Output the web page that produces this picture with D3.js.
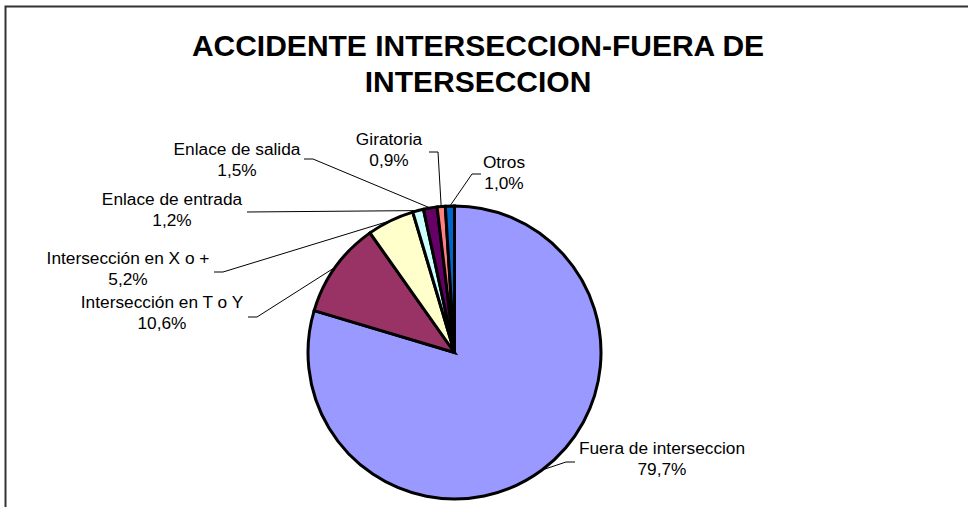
<!DOCTYPE html>
<html lang="es">
<head>
<meta charset="UTF-8">
<style>
  body { margin: 0; background: #fff; }
  svg { display: block; }
  text { font-family: "Liberation Sans", Arial, sans-serif; fill: #000; }
  .title { font-size: 30px; font-weight: bold; }
  .lbl { font-size: 17.3px; }
  .slice { stroke: #000; stroke-width: 3px; }
  .leader { fill: none; stroke: #000; stroke-width: 1px; }
</style>
</head>
<body>
<svg width="968" height="507"></svg>
<script src="https://cdn.jsdelivr.net/npm/d3@7"></script>
<script>
// data, in the order Excel draws it (clockwise from 12 o'clock)
var categories = ["Fuera de interseccion", "Intersección en T o Y", "Intersección en X o +",
                  "Enlace de entrada", "Enlace de salida", "Giratoria", "Otros"];
var values = [79.7, 10.6, 5.2, 1.2, 1.5, 0.9, 1.0];
var pctLabels = ["79,7%", "10,6%", "5,2%", "1,2%", "1,5%", "0,9%", "1,0%"];
var colors = ["#9999FF", "#993366", "#FFFFCC", "#CCFFFF", "#660066", "#FF8080", "#0066CC"];
var titleLines = ["ACCIDENTE INTERSECCION-FUERA DE", "INTERSECCION"];

// label layout: centre x, first baseline, leader start (lx, ly)
var labelLayout = [
  {x: 662, y: 454, lx: 575, ly: 462, side: "right"},
  {x: 162, y: 308, lx: 248, ly: 317, side: "left"},
  {x: 128, y: 264, lx: 214, ly: 272, side: "left"},
  {x: 172, y: 205, lx: 247, ly: 212, side: "left"},
  {x: 237, y: 155, lx: 304, ly: 159, side: "left"},
  {x: 389, y: 145, lx: 429, ly: 152, side: "left"},
  {x: 504, y: 168, lx: 481, ly: 174, side: "right"}
];

var svg = d3.select("svg"),
    cx = 454.5, cy = 352.5, radius = 146.5;

// chart frame (right / bottom edges fall outside the picture)
svg.append("path")
    .attr("d", "M5.5,507 V6.5 H968")
    .attr("fill", "none")
    .attr("stroke", "#333")
    .attr("stroke-width", 2);

svg.selectAll(".title")
    .data(titleLines)
    .enter().append("text")
    .attr("class", "title")
    .attr("x", 478)
    .attr("y", function(d, i) { return 56 + i * 36; })
    .attr("text-anchor", "middle")
    .text(function(d) { return d; });

var pie = d3.pie().sort(null).value(function(d) { return d; });
var arcs = pie(values);

var arc = d3.arc().innerRadius(0).outerRadius(radius);
var edge = d3.arc().innerRadius(radius).outerRadius(radius);

var g = svg.append("g").attr("transform", "translate(" + cx + "," + cy + ")");

g.selectAll(".slice")
    .data(arcs)
    .enter().append("path")
    .attr("class", "slice")
    .attr("d", arc)
    .attr("fill", function(d, i) { return colors[i]; });

// leader lines: short horizontal stub at the label, then to the slice edge
svg.selectAll(".leader")
    .data(arcs)
    .enter().append("path")
    .attr("class", "leader")
    .attr("d", function(d, i) {
        var L = labelLayout[i],
            p = edge.centroid(d),
            px = cx + p[0], py = cy + p[1],
            stub = L.side === "left" ? 9 : -9;
        if (i === 3) stub = 0;
        return "M" + L.lx + "," + L.ly + "H" + (L.lx + stub) + "L" + px + "," + py;
    });

var lbl = svg.selectAll(".lbl")
    .data(arcs)
    .enter().append("text")
    .attr("class", "lbl")
    .attr("text-anchor", "middle");

lbl.append("tspan")
    .attr("x", function(d, i) { return labelLayout[i].x; })
    .attr("y", function(d, i) { return labelLayout[i].y; })
    .text(function(d, i) { return categories[i]; });

lbl.append("tspan")
    .attr("x", function(d, i) { return labelLayout[i].x; })
    .attr("y", function(d, i) { return labelLayout[i].y + 21; })
    .text(function(d, i) { return pctLabels[i]; });
</script>
</body>
</html>
